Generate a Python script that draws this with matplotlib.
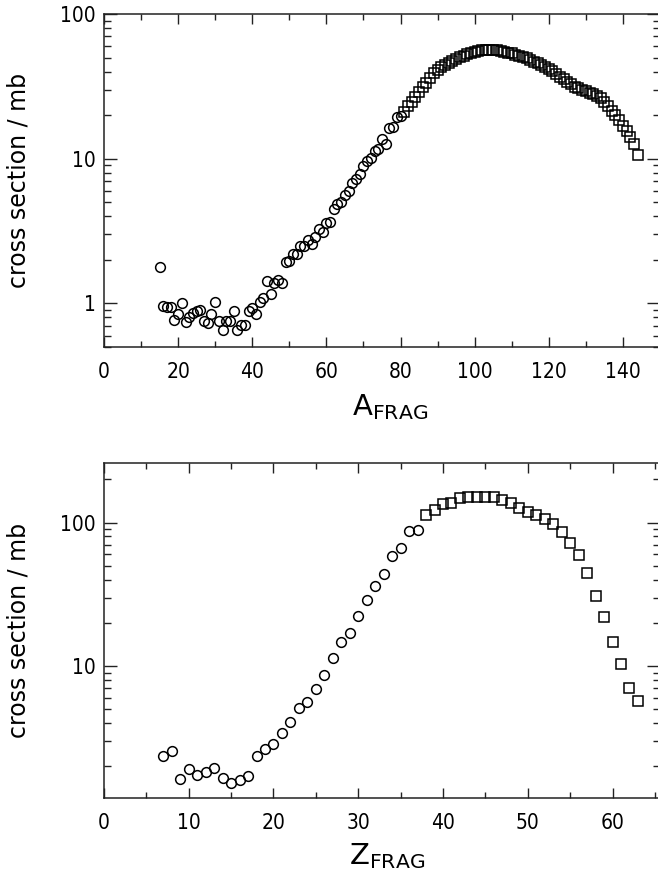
import matplotlib
matplotlib.use("Agg")
import matplotlib.pyplot as plt
import matplotlib.ticker as ticker
import numpy as np

# top panel: fragment mass number A, cross section in mb
a_circle = list(range(15, 81))
cs_a_circle = [1.78, 0.96, 0.95, 0.95, 0.77, 0.84, 1.01, 0.74, 0.81, 0.86,
               0.88, 0.90, 0.76, 0.73, 0.84, 1.02, 0.76, 0.66, 0.76, 0.76,
               0.88, 0.66, 0.71, 0.71, 0.89, 0.93, 0.85, 1.03, 1.09, 1.43,
               1.16, 1.39, 1.46, 1.39, 1.92, 1.96, 2.18, 2.19, 2.48, 2.50,
               2.73, 2.59, 2.88, 3.29, 3.12, 3.60, 3.66, 4.5, 4.9, 5.0,
               5.6, 6.0, 6.8, 7.3, 7.8, 8.9, 9.6, 10.1, 11.4, 11.7,
               13.7, 12.7, 16.3, 16.5, 19.3, 19.7]
a_square = list(range(81, 145))
cs_a_square = [21.2, 23.0, 24.8, 26.9, 29.1, 31.5, 33.6, 36.4, 39.0, 41.1,
               42.9, 44.5, 46.1, 47.6, 48.9, 50.3, 51.6, 53.0, 54.1, 54.7,
               55.6, 56.3, 56.8, 56.8, 56.8, 56.3, 55.6, 54.7, 54.1, 53.5,
               52.5, 51.6, 50.8, 49.7, 48.2, 46.9, 45.7, 44.3, 42.9, 41.6,
               40.2, 38.7, 36.9, 35.3, 33.9, 32.6, 31.5, 30.6, 29.9, 29.3,
               28.5, 27.9, 27.2, 26.2, 24.8, 23.2, 21.4, 20.0, 18.6, 16.9,
               15.6, 14.1, 12.7, 10.6]

# bottom panel: fragment charge Z
z_circle = list(range(7, 38))
cs_z_circle = [2.37, 2.55, 1.62, 1.90, 1.73, 1.81, 1.95, 1.66, 1.54, 1.60,
               1.71, 2.36, 2.64, 2.86, 3.39, 4.09, 5.07, 5.64, 6.88, 8.65,
               11.3, 14.6, 16.9, 22.4, 28.9, 36.2, 43.7, 58.6, 67.0, 87.5,
               88.9]
z_square = list(range(38, 64))
cs_z_square = [113, 123, 134, 138, 148, 150, 151, 151, 151, 144,
               136, 126, 119, 113, 106, 97.5, 86.6, 71.8, 59.6, 44.8,
               30.8, 22.1, 14.6, 10.4, 6.98, 5.70]

plt.rcParams['font.family'] = ['DejaVu Sans']


def style_axis(ax, xmajor, xminor):
    ax.set_yscale('log')
    ax.xaxis.set_major_locator(ticker.MultipleLocator(xmajor))
    ax.xaxis.set_minor_locator(ticker.MultipleLocator(xminor))
    ax.yaxis.set_major_locator(ticker.LogLocator(base=10))
    ax.yaxis.set_minor_locator(ticker.LogLocator(base=10, subs=np.arange(2, 10)))
    ax.yaxis.set_major_formatter(ticker.FuncFormatter(lambda v, p: f"{v:g}"))
    ax.yaxis.set_minor_formatter(ticker.NullFormatter())
    ax.tick_params(which='both', direction='in', top=True, right=True,
                   width=1.0, color='#222222', labelsize=15)
    ax.tick_params(axis='y', which='major', length=9.5, pad=6)
    ax.tick_params(axis='y', which='minor', length=5)
    ax.tick_params(axis='x', which='major', length=7.5, pad=11)
    ax.tick_params(axis='x', which='minor', length=4.3)
    for lab in ax.get_xticklabels() + ax.get_yticklabels():
        lab.set_fontstretch('condensed')
    for s in ax.spines.values():
        s.set_linewidth(1.1)
        s.set_color('#222222')
    ax.spines['right'].set_visible(False)


fig = plt.figure(figsize=(6.58, 8.77), dpi=100)

ax1 = fig.add_axes([0.158, 0.6043, 0.845, 0.3797])
ax1.plot(a_circle, cs_a_circle, 'o', ms=7, mfc='none', mec='black', mew=1.1)
ax1.plot(a_square, cs_a_square, 's', ms=6.5, mfc='none', mec='black', mew=1.1)
style_axis(ax1, 20, 10)
ax1.set_xlim(0, 150)
ax1.set_ylim(0.5, 100)
ax1.set_ylabel('cross section / mb', fontsize=17)
ax1.yaxis.set_label_coords(-0.133, 0.5)
ax1.set_xlabel(r'A$_{\mathregular{FRAG}}$', fontsize=21)
ax1.xaxis.set_label_coords(0.515, -0.135)

ax2 = fig.add_axes([0.158, 0.090, 0.845, 0.382])
ax2.plot(z_circle, cs_z_circle, 'o', ms=7, mfc='none', mec='black', mew=1.1)
ax2.plot(z_square, cs_z_square, 's', ms=6.5, mfc='none', mec='black', mew=1.1)
style_axis(ax2, 10, 5)
ax2.set_xlim(0, 65.6)
ax2.set_ylim(1.2, 260)
ax2.set_ylabel('cross section / mb', fontsize=17)
ax2.yaxis.set_label_coords(-0.133, 0.5)
ax2.set_xlabel(r'Z$_{\mathregular{FRAG}}$', fontsize=21)
ax2.xaxis.set_label_coords(0.51, -0.13)

fig.savefig('out.png', dpi=100)
